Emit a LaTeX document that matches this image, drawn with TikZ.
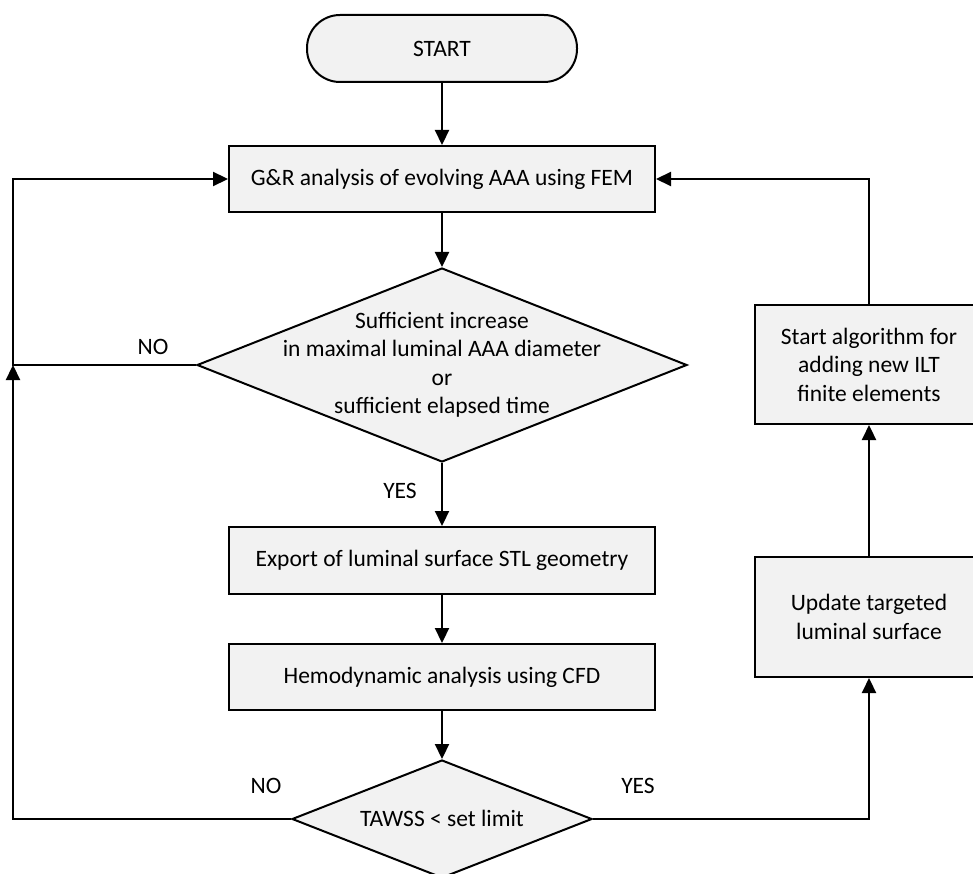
\documentclass[tikz,border=0pt]{standalone}
\usepackage{fontspec}
\setmainfont{Carlito}
\usetikzlibrary{arrows.meta,shapes.geometric}
\definecolor{boxfill}{HTML}{F2F2F2}
\tikzset{
  base/.style={draw=black, line width=2pt, fill=boxfill, inner sep=0pt, align=center, font=\fontsize{23.5}{28.5}\selectfont},
  procbox/.style={base, rectangle, minimum width=426pt, minimum height=66pt},
  sidebox/.style={base, rectangle, minimum width=228pt, minimum height=119pt},
  decbox/.style={base, diamond},
  termbox/.style={base, rectangle, rounded corners=33pt, minimum width=270pt, minimum height=67pt},
  txt/.style={inner sep=0pt, align=center, font=\fontsize{23.5}{28.5}\selectfont},
  conn/.style={line width=2.2pt, -{Triangle[length=15pt,width=14pt]}},
  plain/.style={line width=2pt}
}
\begin{document}
\begin{tikzpicture}[x=1pt,y=-1pt]
\useasboundingbox (0,0) rectangle (973,874);
\clip (0,0) rectangle (973,874);
\node[termbox] (start) at (442,48.5) {START};
\node[procbox] (fem) at (442,179) {G\&R analysis of evolving AAA using FEM};
\node[decbox, minimum width=490pt, minimum height=194pt] (d1) at (442,365) {};
\node[txt] at (442,365) {Sufficient increase\\in maximal luminal AAA diameter\\or\\sufficient elapsed time};
\node[procbox, minimum height=67pt] (stl) at (442,560.5) {Export of luminal surface STL geometry};
\node[procbox] (cfd) at (442,677) {Hemodynamic analysis using CFD};
\node[decbox, minimum width=300pt, minimum height=118pt] (d2) at (442,819) {};
\node[txt] at (442,818) {TAWSS < set limit};
\node[sidebox] (alg) at (869,364.5) {Start algorithm for\\adding new ILT\\finite elements};
\node[sidebox, minimum height=120pt] (upd) at (869,617) {Update targeted\\luminal surface};
\coordinate (l1) at (13,365);
\coordinate (l2) at (13,179);
\coordinate (l3) at (13,819);
\coordinate (r1) at (869,819);
\coordinate (r2) at (869,179);
\node[txt] (no1) at (153,347) {NO};
\node[txt] (yes1) at (400,491) {YES};
\node[txt] (no2) at (266,786) {NO};
\node[txt] (yes2) at (638,786) {YES};
\draw[conn] (start) -- (fem);
\draw[conn] (fem) -- (d1);
\draw[conn] (d1) -- (stl);
\draw[conn] (stl) -- (cfd);
\draw[conn] (cfd) -- (d2);
\draw[conn] (d1.west) -- (l1) -- (l2) -- (fem.west);
\draw[conn] (d2.west) -- (l3) -- (l1);
\draw[conn] (d2.east) -- (r1) -- (upd.south);
\draw[conn] (upd) -- (alg);
\draw[conn] (alg.north) -- (r2) -- (fem.east);
\end{tikzpicture}
\end{document}
